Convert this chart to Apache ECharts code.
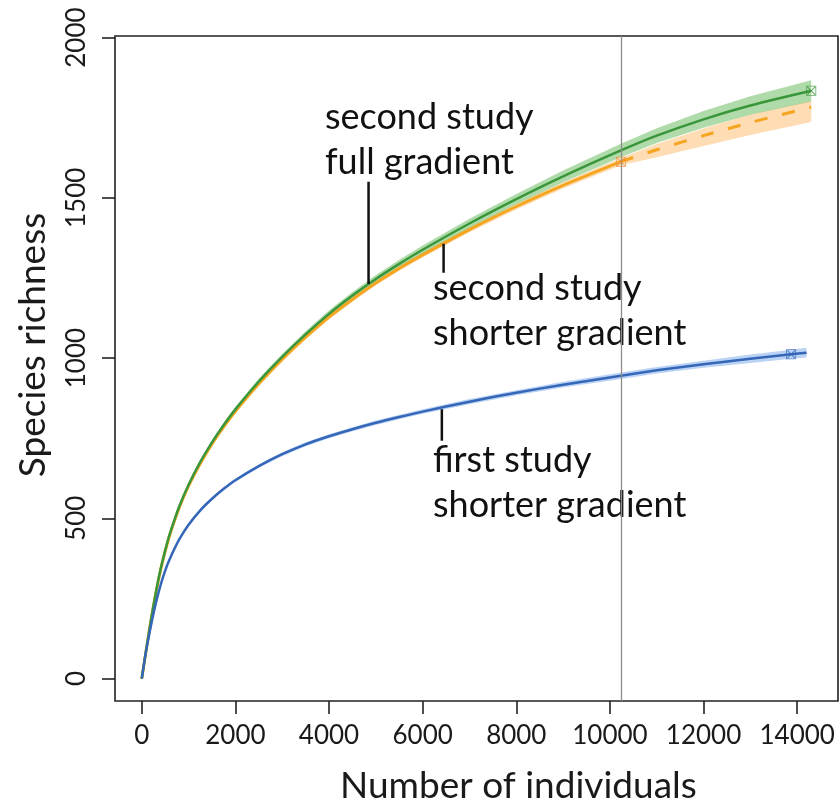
<!DOCTYPE html>
<html><head><meta charset="utf-8">
<script src="https://cdn.jsdelivr.net/npm/echarts@6/dist/echarts.min.js"></script>
<style>html,body{margin:0;padding:0;background:#fff}#c{width:840px;height:802px}</style>
</head><body><div id="c"></div>
<script>
// ---- data ----
const xTicks = [0, 2000, 4000, 6000, 8000, 10000, 12000, 14000];
const yTicks = [0, 500, 1000, 1500, 2000];

const xs = [0,100,200,300,400,500,600,800,1000,1250,1500,1750,2000,2500,3000,3500,4000,4500,5000,5500,6000,7000,8000,9000,10235,11000,12000,13000,14300];
const greenY  = [0,95,186,268,340,400,452,537,605,676,737,791,840,927,1004,1074,1138,1195,1247,1294,1338,1420,1496,1567,1648,1694,1745,1788,1834];
const greenLo = [0,93,183,265,336,396,447,532,599,670,730,784,832,918,995,1064,1127,1184,1235,1281,1325,1405,1480,1549,1627,1671,1719,1759,1801];
const greenHi = [0,97,189,271,344,404,457,542,611,682,744,798,848,936,1013,1084,1149,1206,1259,1307,1351,1435,1512,1585,1669,1717,1771,1817,1867];

const orangeX  = [0,100,200,300,400,500,600,800,1000,1250,1500,1750,2000,2500,3000,3500,4000,4500,5000,5500,6000,7000,8000,9000,10235];
const orangeY  = [0,95,185,266,338,397,449,533,601,671,732,785,834,920,996,1065,1128,1183,1234,1280,1322,1401,1473,1539,1613];
const orangeExtX = [10235,11000,12000,13000,14300];
const orangeExtY = [1613,1650,1694,1735,1783];
const orangeLo = [0,93,183,263,335,394,445,529,597,666,727,780,829,914,990,1059,1121,1176,1227,1273,1314,1393,1464,1529,1602,1627,1662,1696,1737];
const orangeHi = [0,97,187,269,341,400,453,537,605,676,737,790,839,926,1002,1071,1135,1190,1241,1287,1330,1409,1482,1549,1624,1668,1716,1760,1803];

const blueX  = [0,50,100,200,300,400,500,600,800,1000,1250,1500,1750,2000,2500,3000,3500,4000,4500,5000,5500,6000,7000,8000,9000,10235,11000,12000,13000,13870,14200];
const blueY  = [0,48,93,168,235,291,337,374,434,480,525,561,592,619,663,700,731,756,778,798,816,833,864,892,917,945,962,981,998,1012,1017];
const blueLo = [0,47,91,166,232,288,334,370,430,476,520,556,587,614,658,694,725,750,772,791,809,826,856,884,908,935,952,970,985,998,1002];
const blueHi = [0,49,95,170,238,294,340,378,438,484,530,566,597,624,668,706,737,762,784,805,823,840,872,900,926,955,972,992,1011,1026,1032];

const markGreen = [14300, 1834];
const markOrange = [10235, 1613];
const markBlue = [13870, 1012];
const refLineX = 10235;

const pointerFull = [[4844,1550],[4844,1231]];
const pointerShort2 = [[6447,1357],[6447,1266]];
const pointerFirst = [[6410,840],[6410,742]];

// ---- chart ----
const FONT = 'Lato';
const chart = echarts.init(document.getElementById('c'), null, {renderer:'canvas'});
const zip = (a,b) => a.map((v,i)=>[v,b[i]]);

function band(xArr, lo, hi, color){
  const data = xArr.map((x,i)=>[x, lo[i], hi[i]]);
  return {
    type:'custom', silent:true, z:1,
    encode:{x:0, y:[1,2]},
    data,
    renderItem(params, api){
      if (params.dataIndex !== 0) return null;
      const pts = [];
      for (let i=0;i<data.length;i++) pts.push(api.coord([data[i][0], data[i][2]]));
      for (let i=data.length-1;i>=0;i--) pts.push(api.coord([data[i][0], data[i][1]]));
      return {type:'polygon', shape:{points:pts}, style:{fill:color}};
    }
  };
}
const sq = 'path://M0,0L10,0L10,10L0,10ZM0.8,0.8L0.8,9.2L9.2,9.2L9.2,0.8ZM1.5,0.8L5,4.3L8.5,0.8L9.2,1.5L5.7,5L9.2,8.5L8.5,9.2L5,5.7L1.5,9.2L0.8,8.5L4.3,5L0.8,1.5Z';
function marker(pt, color){
  return {type:'scatter', z:5, silent:true, data:[pt], symbol:sq, symbolSize:10,
    itemStyle:{color:color, opacity:0.8}};
}
function pointer(seg){
  return {type:'line', z:6, silent:true, data:seg, showSymbol:false, symbol:'none',
    lineStyle:{color:'#111', width:2.5}};
}
const plain = v => String(v);

const option = {
  animation:false,
  grid:{left:115, top:36, right:2, bottom:101, show:true, borderColor:'#222', borderWidth:1.6, containLabel:false, outerBoundsMode:'none'},
  xAxis:{type:'value', min:-572, max:14872,
    axisLine:{show:false, onZero:false}, splitLine:{show:false},
    axisTick:{show:true, length:13, customValues:xTicks, lineStyle:{color:'#222', width:1.6}},
    axisLabel:{customValues:xTicks, formatter:plain, margin:22, fontFamily:FONT, fontSize:26, color:'#1a1a1a'}},
  yAxis:{type:'value', min:-70, max:2005,
    axisLine:{show:false, onZero:false}, splitLine:{show:false},
    axisTick:{show:true, length:13, customValues:yTicks, lineStyle:{color:'#222', width:1.6}},
    axisLabel:{customValues:yTicks, formatter:plain, rotate:90, margin:25, fontFamily:FONT, fontSize:26, color:'#1a1a1a'}},
  graphic:[
    {type:'text', x:340, y:786, style:{text:'Number of individuals', fontFamily:FONT, fontSize:37, fill:'#1a1a1a', textAlign:'left', textVerticalAlign:'middle'}},
    {type:'text', x:33, y:345, rotation:Math.PI/2, style:{text:'Species richness', fontFamily:FONT, fontSize:37, fill:'#1a1a1a', textAlign:'center', textVerticalAlign:'middle'}},
    {type:'text', x:325, y:117, style:{text:'second study', fontFamily:FONT, fontSize:36, fill:'#111', textAlign:'left', textVerticalAlign:'middle'}},
    {type:'text', x:325, y:162, style:{text:'full gradient', fontFamily:FONT, fontSize:36, fill:'#111', textAlign:'left', textVerticalAlign:'middle'}},
    {type:'text', x:433, y:288, style:{text:'second study', fontFamily:FONT, fontSize:36, fill:'#111', textAlign:'left', textVerticalAlign:'middle'}},
    {type:'text', x:433, y:333, style:{text:'shorter gradient', fontFamily:FONT, fontSize:36, fill:'#111', textAlign:'left', textVerticalAlign:'middle'}},
    {type:'text', x:433, y:460, style:{text:'first study', fontFamily:FONT, fontSize:36, fill:'#111', textAlign:'left', textVerticalAlign:'middle'}},
    {type:'text', x:433, y:505, style:{text:'shorter gradient', fontFamily:FONT, fontSize:36, fill:'#111', textAlign:'left', textVerticalAlign:'middle'}}
  ],
  series:[
    band(xs, orangeLo, orangeHi, 'rgba(253,196,130,0.6)'),
    band(xs, greenLo, greenHi, 'rgba(110,190,100,0.55)'),
    band(blueX, blueLo, blueHi, 'rgba(130,175,235,0.55)'),
    {type:'line', z:3, silent:true, data:zip(orangeX, orangeY), showSymbol:false, symbol:'none', smooth:0.25,
      lineStyle:{color:'#f5a51f', width:3},
      markLine:{silent:true, symbol:'none', label:{show:false}, lineStyle:{color:'#8c8c8c', width:1.3, type:'solid'}, data:[{xAxis:refLineX}]}},
    {type:'line', z:3, silent:true, data:zip(orangeExtX, orangeExtY), showSymbol:false, symbol:'none', smooth:0.25,
      lineStyle:{color:'#f5a51f', width:3, type:[13,15]}},
    {type:'line', z:4, silent:true, data:zip(xs, greenY), showSymbol:false, symbol:'none', smooth:0.25,
      lineStyle:{color:'#3a963a', width:2.5}},
    {type:'line', z:4, silent:true, data:zip(blueX, blueY), showSymbol:false, symbol:'none', smooth:0.25,
      lineStyle:{color:'#3566b8', width:2.5}},
    marker(markOrange, '#f08a30'),
    marker(markGreen, '#3a963a'),
    marker(markBlue, '#3566b8'),
    pointer(pointerFull), pointer(pointerShort2), pointer(pointerFirst)
  ]
};
chart.setOption(option);
</script></body></html>
